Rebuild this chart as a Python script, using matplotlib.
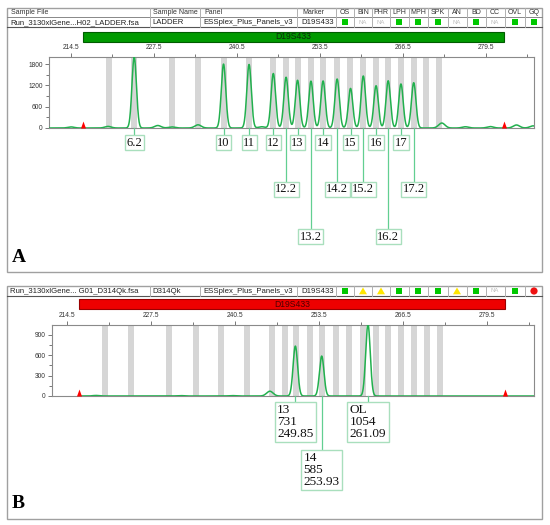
import numpy as np
import matplotlib.pyplot as plt
from matplotlib.patches import Rectangle, Polygon, Circle


# ---- data (size in bp, height in RFU) ----
ladder_alleles = ["6.2", "10", "11", "12", "12.2", "13", "13.2", "14", "14.2",
                  "15", "15.2", "16", "16.2", "17", "17.2"]
ladder_size = [224.4, 238.4, 242.4, 246.2, 248.2, 250.0, 252.1, 254.0, 256.2,
               258.3, 260.3, 262.3, 264.2, 266.2, 268.2]
ladder_rfu = [2000, 1800, 1790, 1535, 1430, 1345, 1320, 1325, 1380,
              1115, 1465, 1190, 1330, 1240, 1275]
ladder_minor_size = [214.5, 220.3, 228.1, 230.3, 234.4, 244.4, 272.6, 276.3, 280.2, 284.3, 286.9]
ladder_minor_rfu = [30, 45, 70, 30, 90, 35, 140, 35, 40, 85, 60]

sample_alleles = ["13", "14", "OL"]
sample_size = [249.85, 253.93, 261.09]
sample_rfu = [731, 585, 1054]
sample_minor_size = [219.0, 232.0, 240.0, 245.9]
sample_minor_rfu = [8, 6, 6, 70]

bin_centres = [220.4, 224.4, 230.3, 234.4, 238.4, 242.4, 246.2, 248.2, 250.0, 252.1,
               254.0, 256.2, 258.2, 260.3, 262.3, 264.2, 266.2, 268.2, 270.2, 272.2]
marker_range = (216.3, 282.3)
marker_name = "D19S433"

status_names = ["OS", "BIN", "PHR", "LPH", "MPH", "SPK", "AN", "BD", "CC", "OVL", "GQ"]
ladder_status = ["ok", "NA", "NA", "ok", "ok", "ok", "NA", "ok", "NA", "ok", "ok"]
sample_status = ["ok", "warn", "warn", "ok", "ok", "ok", "warn", "ok", "NA", "ok", "fail"]

ladder_row = ["Run_3130xlGene...H02_LADDER.fsa", "LADDER", "ESSplex_Plus_Panels_v3", marker_name]
sample_row = ["Run_3130xlGene... G01_D314Qk.fsa", "D314Qk", "ESSplex_Plus_Panels_v3", marker_name]
header_row = ["Sample File", "Sample Name", "Panel", "Marker"]

# ---- style ----
W, H = 550, 525
TRACE = "#22b04e"
LINK = "#62cf91"
BOX_EDGE = "#a9dfbd"
BIN_GREY = "#d6d6d6"
FRAME = "#a0a0a0"
SERIF = "Liberation Serif"
SANS = "Liberation Sans"
SIGMA = 0.35

fig = plt.figure(figsize=(W / 100, H / 100), dpi=100)
ov = fig.add_axes([0, 0, 1, 1])
ov.set_xlim(0, W)
ov.set_ylim(H, 0)
ov.axis("off")

text_cols = [10, 152, 203, 301]
col_edges = [150, 200, 297, 336]
item_centres = [345, 363, 381, 399, 418, 438, 457, 476, 495, 515, 534]
item_edges = [(a + b) / 2 for a, b in zip(item_centres[:-1], item_centres[1:])]


def vline(x, y0, y1, c="#b0b0b0"):
    ov.plot([x, x], [y0, y1], color=c, lw=0.7)


def status_row(y0, y1, statuses):
    cy = (y0 + y1) / 2
    for e in col_edges + item_edges:
        vline(e, y0, y1)
    for cx, st in zip(item_centres, statuses):
        if st == "ok":
            ov.add_patch(Rectangle((cx - 3.4, cy - 3.4), 6.8, 6.8, fc="#00c800", ec="none"))
        elif st == "warn":
            ov.add_patch(Polygon([(cx - 4, cy + 3.3), (cx, cy - 3.5), (cx + 4, cy + 3.3)],
                                 fc="#ffe600", ec="none"))
        elif st == "fail":
            ov.add_patch(Circle((cx, cy), 3.6, fc="#ee1111", ec="none"))
        else:
            ov.text(cx, cy, "NA", fontsize=4.3, color="#bdbdbd", family=SANS,
                    ha="center", va="center")


def info_row(y0, y1, texts):
    cy = (y0 + y1) / 2
    for x, t in zip(text_cols, texts):
        ov.text(x, cy + 0.3, t, fontsize=5.6, color="#222222", family=SANS,
                ha="left", va="center")
    ov.plot([7, 542], [y1, y1], color="#555555", lw=0.8)


# panel frames and table
ov.add_patch(Rectangle((7, 8), 535, 264, fill=False, ec=FRAME, lw=1.0))
ov.add_patch(Rectangle((7, 286), 535, 233, fill=False, ec=FRAME, lw=1.0))

ov.plot([7, 542], [17, 17], color="#888888", lw=0.7)
for e in col_edges + item_edges:
    vline(e, 8, 17)
for x, t in zip(text_cols, header_row):
    ov.text(x + 1, 12.6, t, fontsize=5, color="#333333", family=SANS, va="center")
for cx, t in zip(item_centres, status_names):
    ov.text(cx, 12.6, t, fontsize=5, color="#333333", family=SANS, ha="center", va="center")

info_row(17, 27, ladder_row)
status_row(17, 27, ladder_status)
info_row(286, 296, sample_row)
status_row(286, 296, sample_status)

ov.text(12, 257, "A", fontsize=14, weight="bold", family=SERIF, va="center")
ov.text(12, 503, "B", fontsize=14, weight="bold", family=SERIF, va="center")

tri = [(-0.36, 0), (0, 1), (0.36, 0)]


def draw_panel(box, xlim, ymax, yticks, yminor, bar_px, bar_fc, bar_ec, bar_tc,
               sizes, rfus, minor_sizes, minor_rfus, trace_start):
    x0, y0, x1, y1 = box
    ax = fig.add_axes([x0 / W, 1 - y1 / H, (x1 - x0) / W, (y1 - y0) / H])
    ax.set_xlim(*xlim)
    ax.set_ylim(0, ymax)

    def frac(ypx):
        return (y1 - ypx) / (y1 - y0)

    for c in bin_centres:
        ax.axvspan(c - 0.47, c + 0.47, color=BIN_GREY, lw=0, zorder=1)

    x = np.linspace(trace_start, xlim[1], 4000)
    y = np.zeros_like(x)
    for s, h in zip(sizes, rfus):
        y += h * np.exp(-0.5 * ((x - s) / SIGMA) ** 2)
    for s, h in zip(minor_sizes, minor_rfus):
        y += h * np.exp(-0.5 * ((x - s) / 0.5) ** 2)
    ax.plot(x, y, color=TRACE, lw=1.1, zorder=3)

    ax.scatter(marker_range, [0, 0], marker=tri, s=100, color="red", lw=0,
               zorder=4, clip_on=False)

    tr = ax.get_xaxis_transform()
    ax.add_patch(Rectangle((marker_range[0], frac(bar_px[1])),
                           marker_range[1] - marker_range[0],
                           frac(bar_px[0]) - frac(bar_px[1]),
                           transform=tr, clip_on=False, fc=bar_fc, ec=bar_ec, lw=0.8))
    ax.text(sum(marker_range) / 2, frac(sum(bar_px) / 2), marker_name, transform=tr,
            ha="center", va="center", fontsize=6.2, family=SANS, color=bar_tc)

    ax.xaxis.set_ticks_position("top")
    major = np.arange(214.5, xlim[1], 13)
    ax.set_xticks(major)
    ax.set_xticklabels([f"{v:.1f}" for v in major])
    ax.set_xticks(np.arange(221, xlim[1], 13), minor=True)
    ax.set_yticks(yticks)
    ax.set_yticklabels([str(v) for v in yticks])
    ax.set_yticks(yminor, minor=True)
    ax.tick_params(axis="both", which="major", length=3, width=0.7, color="#777777",
                   labelsize=4.8, labelcolor="#333333", pad=1.5)
    ax.tick_params(axis="both", which="minor", length=2, width=0.7, color="#777777")
    for sp in ax.spines.values():
        sp.set_color("#8a8a8a")
        sp.set_linewidth(0.8)
    for lab in ax.get_xticklabels() + ax.get_yticklabels():
        lab.set_family(SANS)
    return ax, frac


# panel A: allelic ladder
axA, fracA = draw_panel((49, 57, 534, 128), (211.05, 287.05), 2000,
                        [0, 600, 1200, 1800], np.arange(300, 2000, 600),
                        (31.7, 41.7), "#009a00", "#005c00", "#0d2a0d",
                        ladder_size, ladder_rfu, ladder_minor_size, ladder_minor_rfu, 211.05)
rows_A = {1: 142.5, 2: 189.0, 3: 236.5}
lower_A = {"12.2": 2, "14.2": 2, "15.2": 2, "17.2": 2, "13.2": 3, "16.2": 3}
trA = axA.get_xaxis_transform()
for name, s in zip(ladder_alleles, ladder_size):
    yc = fracA(rows_A[lower_A.get(name, 1)])
    axA.plot([s, s], [0, yc], transform=trA, color=LINK, lw=0.9, clip_on=False, zorder=5)
    axA.text(s, yc, name, transform=trA, ha="center", va="center", fontsize=9,
             family=SERIF, color="#111111", zorder=6, clip_on=False,
             bbox=dict(boxstyle="square,pad=0.12", fc="white", ec=BOX_EDGE, lw=1.0))

# panel B: sample
axB, fracB = draw_panel((52, 325, 534, 396), (212.18, 286.79), 1040,
                        [0, 300, 600, 900], np.arange(150, 1040, 300),
                        (299.3, 309.3), "#ee0000", "#9a0000", "#4a0000",
                        sample_size, sample_rfu, sample_minor_size, sample_minor_rfu,
                        marker_range[0])
rows_B = {1: 422.0, 2: 470.0}
lower_B = {"14": 2}
trB = axB.get_xaxis_transform()
for name, s, h in zip(sample_alleles, sample_size, sample_rfu):
    yc = fracB(rows_B[lower_B.get(name, 1)])
    axB.plot([s, s], [0, yc], transform=trB, color=LINK, lw=0.9, clip_on=False, zorder=5)
    axB.text(s, yc, f"{name}\n{h}\n{s:.2f}", transform=trB, ha="center", va="center",
             multialignment="left", linespacing=0.98, fontsize=9.5, family=SERIF,
             color="#111111", zorder=6, clip_on=False,
             bbox=dict(boxstyle="square,pad=0.18", fc="white", ec=BOX_EDGE, lw=1.0))

fig.savefig("out.png", dpi=100)
